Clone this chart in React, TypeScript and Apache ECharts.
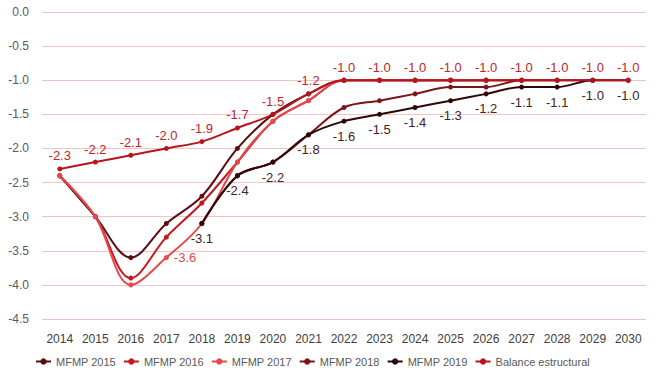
import React, { useEffect, useRef } from "react";
import * as echarts from "echarts";

const years = ["2014","2015","2016","2017","2018","2019","2020","2021","2022","2023","2024","2025","2026","2027","2028","2029","2030"];

const mfmp2015: (number | null)[] = [-2.4, -3.0, -3.6, -3.1, -2.7, -2.0, -1.5, -1.2, -1.0, -1.0, -1.0, -1.0, -1.0, null, null, null, null];
const mfmp2016: (number | null)[] = [-2.4, -3.0, -3.9, -3.3, -2.8, -2.2, -1.6, -1.3, -1.0, -1.0, -1.0, -1.0, -1.0, -1.0, null, null, null];
const mfmp2017: (number | null)[] = [-2.4, -3.0, -4.0, -3.6, -3.1, -2.2, -1.6, -1.3, -1.0, -1.0, -1.0, -1.0, -1.0, -1.0, -1.0, null, null];
const mfmp2018: (number | null)[] = [null, null, null, null, -3.1, -2.4, -2.2, -1.8, -1.4, -1.3, -1.2, -1.1, -1.1, -1.0, -1.0, -1.0, null];
const mfmp2019: (number | null)[] = [null, null, null, null, -3.1, -2.4, -2.2, -1.8, -1.6, -1.5, -1.4, -1.3, -1.2, -1.1, -1.1, -1.0, -1.0];
const balance: number[] = [-2.3, -2.2, -2.1, -2.0, -1.9, -1.7, -1.5, -1.2, -1.0, -1.0, -1.0, -1.0, -1.0, -1.0, -1.0, -1.0, -1.0];

const yTicks = [0, -0.5, -1, -1.5, -2, -2.5, -3, -3.5, -4, -4.5];

const seriesNames = ["MFMP 2015", "MFMP 2016", "MFMP 2017", "MFMP 2018", "MFMP 2019", "Balance estructural"];
const colors = ["#5a0d13", "#c8161e", "#e5484d", "#7d1418", "#2e0608", "#b8141b"];

const toData = (arr: (number | null)[]) => arr.map((v) => (v === null ? "-" : v));

export default function App() {
  const ref = useRef<HTMLDivElement>(null);
  useEffect(() => {
    if (!ref.current) return;
    const chart = echarts.init(ref.current, undefined, { renderer: "svg" });
    const font = "'Liberation Sans', Arial, sans-serif";
    const base = (name: string, idx: number, data: any[]) => ({
      name,
      type: "line",
      data,
      smooth: 0.35,
      symbol: "circle",
      symbolSize: 5,
      showSymbol: true,
      connectNulls: false,
      lineStyle: { color: colors[idx], width: 2 },
      itemStyle: { color: colors[idx] },
      emphasis: { disabled: true },
    });
    const s2017Data = toData(mfmp2017).map((v, i) =>
      i === 3
        ? { value: v, label: { show: true, position: "right", distance: 5, color: "#e5484d", fontSize: 13, fontFamily: font, formatter: (p: any) => Number(p.value).toFixed(1) } }
        : v
    );
    const option: any = {
      animation: false,
      color: colors,
      grid: { left: 42, right: 10, top: 12, bottom: 57, containLabel: false },
      legend: {
        left: 30,
        top: 351,
        itemWidth: 15,
        itemHeight: 8,
        itemGap: 7,
        textStyle: { color: "#595959", fontSize: 11, fontFamily: font },
        data: seriesNames,
      },
      xAxis: {
        type: "category",
        data: years,
        boundaryGap: true,
        axisLine: { show: false, onZero: false },
        axisTick: { show: false },
        axisLabel: { color: "#404040", fontSize: 12, fontFamily: font, margin: 14 },
        splitLine: { show: false },
      },
      yAxis: {
        type: "value",
        min: -4.5,
        max: 0,
        interval: 0.5,
        axisLine: { show: false },
        axisTick: { show: false },
        axisLabel: {
          color: "#595959",
          fontSize: 12,
          fontFamily: font,
          margin: 13,
          formatter: (v: number) => (yTicks.includes(v) ? v.toFixed(1) : ""),
        },
        splitLine: { show: true, lineStyle: { color: "#f4c4c4", width: 1 } },
      },
      series: [
        base(seriesNames[0], 0, toData(mfmp2015)),
        base(seriesNames[1], 1, toData(mfmp2016)),
        base(seriesNames[2], 2, s2017Data),
        base(seriesNames[3], 3, toData(mfmp2018)),
        {
          ...base(seriesNames[4], 4, toData(mfmp2019)),
          label: {
            show: true,
            position: "bottom",
            distance: 6,
            color: "#3d2424",
            fontSize: 13,
            fontFamily: font,
            formatter: (p: any) => Number(p.value).toFixed(1),
          },
        },
        {
          ...base(seriesNames[5], 5, toData(balance)),
          label: {
            show: true,
            position: "top",
            distance: 4,
            color: "#c0242b",
            fontSize: 13,
            fontFamily: font,
            formatter: (p: any) => Number(p.value).toFixed(1),
          },
        },
      ],
    };
    chart.setOption(option);
    return () => chart.dispose();
  }, []);
  return <div ref={ref} style={{ width: 656, height: 376, position: "absolute", left: 0, top: 0 }} />;
}
